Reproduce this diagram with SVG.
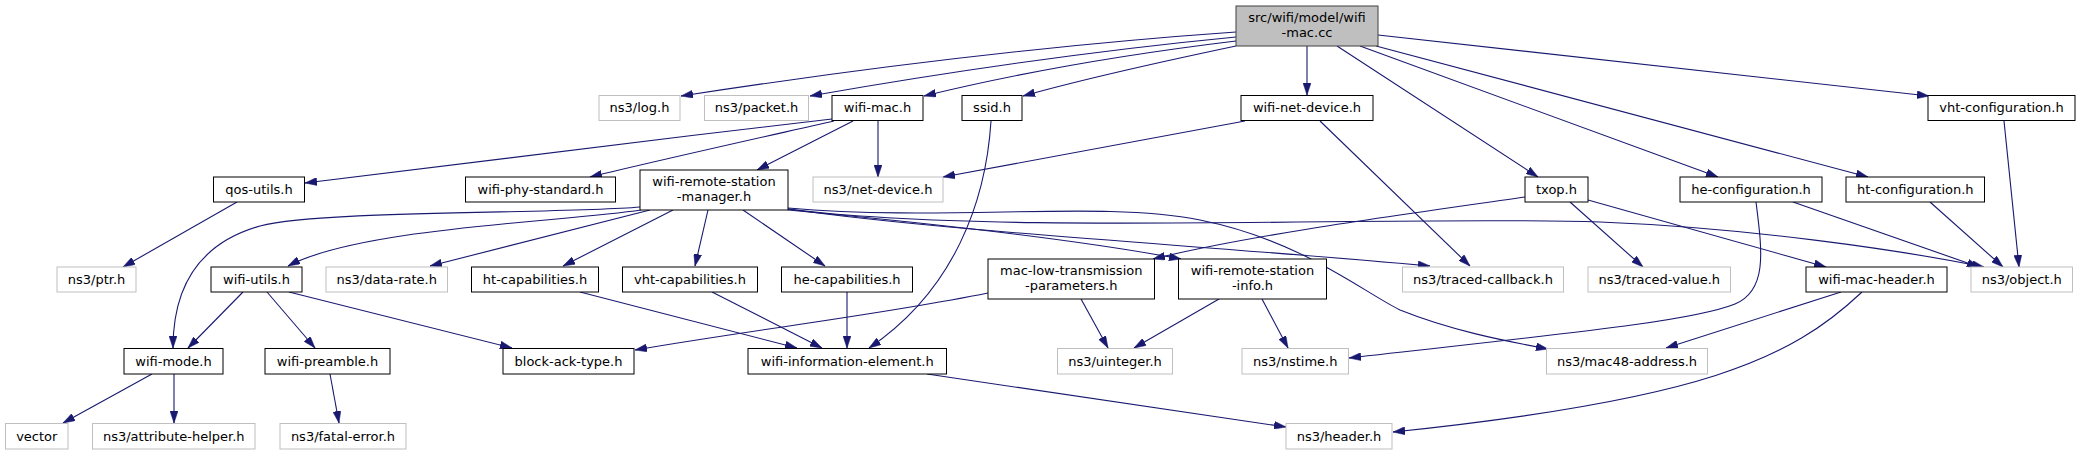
<svg xmlns="http://www.w3.org/2000/svg" width="2081" height="455" viewBox="0 0 2081 455">
<defs>
<marker id="ah" viewBox="0 0 12 8" markerWidth="12" markerHeight="8" refX="12" refY="4" orient="auto" markerUnits="userSpaceOnUse">
<path d="M0,0 L12,4 L0,8 z" fill="#191970" stroke="#191970" stroke-width="0.5"/>
</marker>
<style>
rect{fill:#fff;stroke:#000;stroke-width:1}
.g rect{stroke:#bfbfbf}
.root rect{fill:#bfbfbf;stroke:#404040}
text{font-family:"DejaVu Sans","Liberation Sans",sans-serif;font-size:13px;text-anchor:middle;fill:#000}
#edges path{fill:none;stroke:#191970;stroke-width:1.1;marker-end:url(#ah)}
</style>
</defs>
<rect x="0" y="0" width="2081" height="455" style="fill:#fff;stroke:none"/>
<g id="edges">
<path d="M1236,32 C1050,45 850,70 681,96"/>
<path d="M1236,37 C1080,52 930,75 810,96"/>
<path d="M1236,41 C1120,55 1010,75 924,96"/>
<path d="M1236,46 C1160,62 1080,80 1023,96"/>
<path d="M1307,46 L1307,95"/>
<path d="M1337,46 L1538,177"/>
<path d="M1360,46 L1718,177"/>
<path d="M1376,46 L1868,177"/>
<path d="M1378,35 L1929,96"/>
<path d="M832,119 C650,140 450,165 305,183"/>
<path d="M834,121 C750,140 660,160 590,177"/>
<path d="M853,121 L757,170"/>
<path d="M878,121 L878,177"/>
<path d="M991,121 C986,200 955,290 869,348"/>
<path d="M1245,121 L943,177"/>
<path d="M1320,121 L1470,266"/>
<path d="M640,207 C560,214 320,210 260,226 C200,243 173,285 173,348"/>
<path d="M641,210 C560,222 360,228 288,266"/>
<path d="M650,210 L430,266"/>
<path d="M673,210 L563,266"/>
<path d="M708,210 L695,266"/>
<path d="M743,210 L825,266"/>
<path d="M788,208 C950,222 1100,200 1200,220 C1300,240 1360,290 1400,310 C1450,330 1500,340 1548,349"/>
<path d="M788,209 C1000,236 1400,215 1600,222 C1750,228 1900,250 1984,267"/>
<path d="M788,209 C950,232 1200,245 1430,266"/>
<path d="M788,210 C950,225 1080,240 1181,259"/>
<path d="M1525,197 C1400,215 1250,235 1153,259"/>
<path d="M1570,202 L1643,267"/>
<path d="M1588,200 L1826,267"/>
<path d="M1793,202 L1979,267"/>
<path d="M1930,202 L2003,267"/>
<path d="M2004,121 L2019,267"/>
<path d="M1756,202 C1762,250 1768,290 1735,304 C1690,322 1560,334 1349,358"/>
<path d="M1841,292 L1666,348"/>
<path d="M1862,292 C1790,360 1700,400 1393,432"/>
<path d="M1081,299 L1108,348"/>
<path d="M988,293 C880,315 750,330 635,350"/>
<path d="M1219,299 L1134,348"/>
<path d="M1262,299 L1288,348"/>
<path d="M580,292 L797,348"/>
<path d="M712,292 L822,348"/>
<path d="M847,292 L847,348"/>
<path d="M927,374 L1286,427"/>
<path d="M243,292 L188,348"/>
<path d="M267,292 L315,348"/>
<path d="M289,292 L512,348"/>
<path d="M237,202 L123,267"/>
<path d="M152,374 L63,423"/>
<path d="M174,374 L174,423"/>
<path d="M330,374 L339,423"/>
</g>
<g id="n_root" class="root"><rect x="1236" y="6" width="142" height="40"/><text x="1307" y="21.5">src/wifi/model/wifi</text><text x="1307" y="36.5">-mac.cc</text></g>
<g id="n_log" class="g"><rect x="599" y="95.5" width="81" height="25"/><text x="639.5" y="112.3">ns3/log.h</text></g>
<g id="n_packet" class="g"><rect x="704.5" y="95.5" width="104" height="25"/><text x="756.5" y="112.3">ns3/packet.h</text></g>
<g id="n_wifimac"><rect x="832" y="95.5" width="91" height="25"/><text x="877.5" y="112.3">wifi-mac.h</text></g>
<g id="n_ssid"><rect x="962" y="95.5" width="60" height="25"/><text x="992" y="112.3">ssid.h</text></g>
<g id="n_wifinetdevice"><rect x="1241" y="95.5" width="132" height="25"/><text x="1307" y="112.3">wifi-net-device.h</text></g>
<g id="n_vhtconf"><rect x="1928" y="95.5" width="147" height="25"/><text x="2001.5" y="112.3">vht-configuration.h</text></g>
<g id="n_qos"><rect x="213.5" y="177" width="91" height="25"/><text x="259" y="193.8">qos-utils.h</text></g>
<g id="n_phystd"><rect x="465.5" y="177" width="150" height="25"/><text x="540.5" y="193.8">wifi-phy-standard.h</text></g>
<g id="n_manager"><rect x="640" y="170" width="148" height="40"/><text x="714" y="185.5">wifi-remote-station</text><text x="714" y="200.5">-manager.h</text></g>
<g id="n_netdevice" class="g"><rect x="813" y="177" width="130" height="25"/><text x="878" y="193.8">ns3/net-device.h</text></g>
<g id="n_txop"><rect x="1525" y="177" width="63" height="25"/><text x="1556.5" y="193.8">txop.h</text></g>
<g id="n_heconf"><rect x="1680" y="177" width="142" height="25"/><text x="1751" y="193.8">he-configuration.h</text></g>
<g id="n_htconf"><rect x="1846" y="177" width="138.5" height="25"/><text x="1915.25" y="193.8">ht-configuration.h</text></g>
<g id="n_ptr" class="g"><rect x="57" y="267" width="79" height="25"/><text x="96.5" y="283.8">ns3/ptr.h</text></g>
<g id="n_utils"><rect x="211" y="267" width="91" height="25"/><text x="256.5" y="283.8">wifi-utils.h</text></g>
<g id="n_datarate" class="g"><rect x="326" y="267" width="121.5" height="25"/><text x="386.75" y="283.8">ns3/data-rate.h</text></g>
<g id="n_htcap"><rect x="471.5" y="267" width="127" height="25"/><text x="535" y="283.8">ht-capabilities.h</text></g>
<g id="n_vhtcap"><rect x="622.5" y="267" width="135" height="25"/><text x="690" y="283.8">vht-capabilities.h</text></g>
<g id="n_hecap"><rect x="781.5" y="267" width="131" height="25"/><text x="847" y="283.8">he-capabilities.h</text></g>
<g id="n_maclow"><rect x="988" y="259" width="166.5" height="40"/><text x="1071.25" y="274.5">mac-low-transmission</text><text x="1071.25" y="289.5">-parameters.h</text></g>
<g id="n_info"><rect x="1178.5" y="259" width="148" height="40"/><text x="1252.5" y="274.5">wifi-remote-station</text><text x="1252.5" y="289.5">-info.h</text></g>
<g id="n_tracedcb" class="g"><rect x="1402.5" y="267" width="161" height="25"/><text x="1483" y="283.8">ns3/traced-callback.h</text></g>
<g id="n_tracedval" class="g"><rect x="1588" y="267" width="142.5" height="25"/><text x="1659.25" y="283.8">ns3/traced-value.h</text></g>
<g id="n_macheader"><rect x="1806" y="267" width="141" height="25"/><text x="1876.5" y="283.8">wifi-mac-header.h</text></g>
<g id="n_object" class="g"><rect x="1971" y="267" width="101.5" height="25"/><text x="2021.75" y="283.8">ns3/object.h</text></g>
<g id="n_mode"><rect x="124" y="348.5" width="99" height="25.5"/><text x="173.5" y="365.5">wifi-mode.h</text></g>
<g id="n_preamble"><rect x="265" y="348.5" width="125" height="25.5"/><text x="327.5" y="365.5">wifi-preamble.h</text></g>
<g id="n_blockack"><rect x="503" y="348.5" width="131" height="25.5"/><text x="568.5" y="365.5">block-ack-type.h</text></g>
<g id="n_wie"><rect x="748" y="348.5" width="198.5" height="25.5"/><text x="847.25" y="365.5">wifi-information-element.h</text></g>
<g id="n_uinteger" class="g"><rect x="1057.5" y="348.5" width="115" height="25.5"/><text x="1115" y="365.5">ns3/uinteger.h</text></g>
<g id="n_nstime" class="g"><rect x="1242" y="348.5" width="106.5" height="25.5"/><text x="1295.25" y="365.5">ns3/nstime.h</text></g>
<g id="n_mac48" class="g"><rect x="1546.5" y="348.5" width="161" height="25.5"/><text x="1627" y="365.5">ns3/mac48-address.h</text></g>
<g id="n_vector" class="g"><rect x="5.5" y="423.5" width="62.5" height="25.5"/><text x="36.75" y="440.5">vector</text></g>
<g id="n_attr" class="g"><rect x="92.5" y="423.5" width="162.5" height="25.5"/><text x="173.75" y="440.5">ns3/attribute-helper.h</text></g>
<g id="n_fatal" class="g"><rect x="280" y="423.5" width="126" height="25.5"/><text x="343" y="440.5">ns3/fatal-error.h</text></g>
<g id="n_header" class="g"><rect x="1286" y="423.5" width="106" height="25.5"/><text x="1339" y="440.5">ns3/header.h</text></g>
</svg>
